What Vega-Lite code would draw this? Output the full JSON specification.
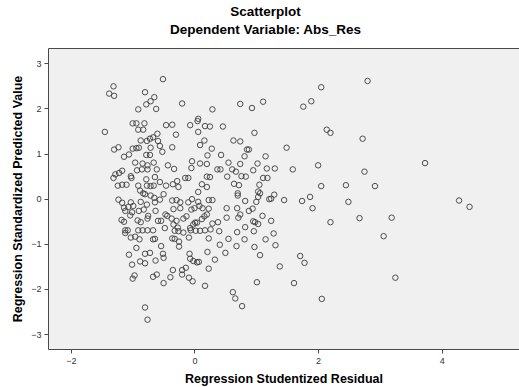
{
  "$schema": "https://vega.github.io/schema/vega-lite/v6.json",
  "width": 471,
  "height": 301,
  "autosize": {"type": "none"},
  "padding": {"left": 48, "top": 48, "right": 0, "bottom": 38},
  "background": "#ffffff",
  "config": {
    "font": "Liberation Sans",
    "view": {"fill": "#f0f0f0", "stroke": "#4a4a4a", "strokeWidth": 1},
    "axis": {"grid": false, "domain": false, "tickColor": "#4a4a4a", "tickSize": 4, "labelFontSize": 9, "labelColor": "#333333", "titleFontSize": 12.5, "titleFontWeight": "bold", "titleColor": "#000000", "labelFont": "Liberation Sans", "titleFont": "Liberation Sans"}
  },
  "title": {
    "text": "Scatterplot",
    "subtitle": "Dependent Variable: Abs_Res",
    "anchor": "middle",
    "dx": -18,
    "offset": 12,
    "fontSize": 13.5,
    "fontWeight": "bold",
    "subtitleFontSize": 13.5,
    "subtitleFontWeight": "bold",
    "subtitlePadding": 4,
    "color": "#000000",
    "subtitleColor": "#000000",
    "font": "Liberation Sans",
    "subtitleFont": "Liberation Sans"
  },
  "data": {"values": [
    {"r":-0.51,"p":2.65},{"r":-1.31,"p":2.49},{"r":-1.38,"p":2.33},{"r":-1.30,"p":2.28},{"r":-0.80,"p":2.36},{"r":-0.65,"p":2.25},{"r":-0.71,"p":2.16},{"r":-0.78,"p":2.09},{"r":-0.91,"p":1.98},{"r":-0.62,"p":1.99},
    {"r":-1.00,"p":1.67},{"r":-0.94,"p":1.67},{"r":-0.81,"p":1.67},{"r":-0.91,"p":1.53},{"r":-0.83,"p":1.53},{"r":-1.45,"p":1.48},{"r":-0.46,"p":1.63},{"r":-0.60,"p":1.44},{"r":-0.87,"p":1.29},{"r":-0.77,"p":1.28},
    {"r":-0.72,"p":1.33},{"r":-0.67,"p":1.36},{"r":-0.59,"p":1.28},{"r":-0.56,"p":1.17},{"r":-1.30,"p":1.09},{"r":-1.23,"p":1.14},{"r":-1.00,"p":1.11},{"r":-0.94,"p":1.12},{"r":-0.90,"p":1.13},{"r":-0.71,"p":1.13},
    {"r":-0.52,"p":1.04},{"r":-1.14,"p":0.93},{"r":-1.06,"p":0.98},{"r":-0.78,"p":0.97},{"r":-0.72,"p":0.97},
    {"r":-0.96,"p":0.80},{"r":-0.84,"p":0.78},{"r":-0.76,"p":0.74},{"r":-0.66,"p":0.80},{"r":-0.43,"p":0.74},{"r":-1.17,"p":0.62},{"r":-1.22,"p":0.57},{"r":-1.28,"p":0.54},{"r":-1.31,"p":0.46},{"r":-1.03,"p":0.50},
    {"r":-1.02,"p":0.46},{"r":-0.93,"p":0.63},{"r":-0.85,"p":0.65},{"r":-0.76,"p":0.65},{"r":-0.61,"p":0.65},{"r":-0.78,"p":0.43},{"r":-0.64,"p":0.48},{"r":-0.56,"p":0.37},{"r":-1.24,"p":0.29},{"r":-1.17,"p":0.31},
    {"r":-1.10,"p":0.31},{"r":-0.91,"p":0.29},{"r":-0.77,"p":0.29},{"r":-0.71,"p":0.28},{"r":-0.66,"p":0.29},{"r":-0.46,"p":0.29},{"r":-0.88,"p":0.18},{"r":-0.83,"p":0.12},{"r":-0.80,"p":0.10},{"r":-0.71,"p":0.07},
    {"r":-0.65,"p":0.02},{"r":-0.56,"p":-0.02},{"r":-1.23,"p":-0.02},{"r":-1.17,"p":-0.09},{"r":-1.03,"p":-0.08},{"r":-0.87,"p":-0.07},{"r":-0.50,"p":0.10},{"r":-1.14,"p":-0.20},{"r":-1.07,"p":-0.18},{"r":-0.99,"p":-0.16},
    {"r":-0.77,"p":-0.13},{"r":-0.64,"p":-0.08},{"r":-1.12,"p":-0.27},{"r":-1.04,"p":-0.37},{"r":-1.01,"p":-0.30},{"r":-0.90,"p":-0.27},{"r":-0.82,"p":-0.24},{"r":-0.63,"p":-0.27},{"r":-0.47,"p":-0.35},{"r":-0.44,"p":-0.38},
    {"r":-0.75,"p":-0.38},{"r":-0.76,"p":-0.44},{"r":-1.18,"p":-0.47},{"r":-1.14,"p":-0.51},{"r":-0.92,"p":-0.48},{"r":-0.87,"p":-0.52},{"r":-0.59,"p":-0.49},{"r":-0.54,"p":-0.49},{"r":-1.12,"p":-0.70},{"r":-1.08,"p":-0.70},
    {"r":-0.91,"p":-0.70},{"r":-0.84,"p":-0.70},{"r":-0.76,"p":-0.70},{"r":-0.67,"p":-0.70},{"r":-0.48,"p":-0.65},{"r":-1.12,"p":-0.76},{"r":-1.03,"p":-0.86},{"r":-0.96,"p":-0.84},{"r":-0.89,"p":-0.90},{"r":-0.64,"p":-0.89},
    {"r":-0.67,"p":-0.90},{"r":-0.94,"p":-1.09},{"r":-0.54,"p":-1.05},{"r":-0.26,"p":0.26},{"r":-0.34,"p":-0.23},
    {"r":-1.06,"p":-1.24},{"r":-0.80,"p":-1.22},{"r":-0.72,"p":-1.20},{"r":-0.51,"p":-1.22},{"r":-0.50,"p":-1.31},{"r":-1.01,"p":-1.46},{"r":-0.88,"p":-1.39},{"r":-0.80,"p":-1.43},{"r":-0.63,"p":-1.37},{"r":-0.97,"p":-1.70},
    {"r":-1.00,"p":-1.77},{"r":-0.67,"p":-1.73},{"r":-0.61,"p":-1.68},{"r":-0.50,"p":-1.87},{"r":-0.80,"p":-2.41},{"r":-0.76,"p":-2.68},
    {"r":2.05,"p":2.47},{"r":-0.20,"p":2.11},{"r":0.29,"p":1.98},{"r":0.74,"p":2.10},{"r":0.93,"p":2.01},{"r":1.11,"p":2.15},{"r":1.76,"p":2.04},{"r":1.89,"p":2.16},{"r":-0.36,"p":1.64},{"r":-0.30,"p":1.42},
    {"r":0.06,"p":1.77},{"r":0.05,"p":1.72},{"r":-0.07,"p":1.63},{"r":0.17,"p":1.61},{"r":0.25,"p":1.60},{"r":0.46,"p":1.60},{"r":0.06,"p":1.48},{"r":0.16,"p":1.29},{"r":0.09,"p":1.19},{"r":0.28,"p":1.11},
    {"r":0.63,"p":1.29},{"r":0.74,"p":1.27},{"r":0.97,"p":1.46},{"r":0.85,"p":1.09},{"r":0.88,"p":1.09},{"r":2.14,"p":1.53},{"r":2.20,"p":1.46},{"r":1.49,"p":1.13},{"r":-0.36,"p":1.14},{"r":0.43,"p":0.97},
    {"r":0.21,"p":0.96},{"r":0.81,"p":0.94},{"r":1.15,"p":0.94},{"r":-0.04,"p":0.83},{"r":0.09,"p":0.78},{"r":0.20,"p":0.77},{"r":0.55,"p":0.80},{"r":0.74,"p":0.77},{"r":1.02,"p":0.78},{"r":2.00,"p":0.74},
    {"r":-0.33,"p":0.66},{"r":-0.05,"p":0.68},{"r":0.37,"p":0.65},{"r":0.42,"p":0.65},{"r":0.61,"p":0.65},{"r":0.67,"p":0.60},{"r":0.95,"p":0.63},{"r":1.17,"p":0.67},{"r":1.30,"p":0.67},{"r":1.59,"p":0.65},
    {"r":-0.28,"p":0.39},{"r":-0.15,"p":0.46},{"r":-0.10,"p":0.46},{"r":0.20,"p":0.49},{"r":0.25,"p":0.48},{"r":0.53,"p":0.49},{"r":0.76,"p":0.50},{"r":0.83,"p":0.49},{"r":1.11,"p":0.46},{"r":1.18,"p":0.46},
    {"r":-0.35,"p":0.32},{"r":0.12,"p":0.32},{"r":0.20,"p":0.26},{"r":0.64,"p":0.33},{"r":0.72,"p":0.30},{"r":1.05,"p":0.31},{"r":2.05,"p":0.28},{"r":0.06,"p":0.15},{"r":0.70,"p":0.12},{"r":1.03,"p":0.16},
    {"r":1.06,"p":0.12},{"r":1.29,"p":0.09},
    {"r":-0.36,"p":-0.04},{"r":-0.29,"p":-0.03},{"r":-0.23,"p":-0.08},{"r":-0.10,"p":-0.08},{"r":-0.04,"p":-0.01},{"r":0.06,"p":-0.07},{"r":0.23,"p":-0.03},{"r":0.29,"p":-0.03},{"r":0.70,"p":0.07},{"r":0.82,"p":-0.05},
    {"r":1.00,"p":-0.07},{"r":1.03,"p":0.04},{"r":1.21,"p":-0.01},{"r":1.24,"p":0.00},{"r":1.45,"p":-0.03},{"r":1.74,"p":-0.05},{"r":1.87,"p":0.04},{"r":1.91,"p":-0.21},{"r":2.20,"p":-0.52},{"r":-0.23,"p":-0.21},
    {"r":-0.05,"p":-0.24},{"r":0.00,"p":-0.21},{"r":0.08,"p":-0.16},{"r":0.13,"p":-0.21},{"r":0.23,"p":-0.22},{"r":0.52,"p":-0.21},{"r":0.69,"p":-0.21},{"r":0.88,"p":-0.27},{"r":0.94,"p":-0.22},{"r":-0.37,"p":-0.44},
    {"r":-0.29,"p":-0.49},{"r":-0.18,"p":-0.44},{"r":-0.13,"p":-0.39},{"r":0.01,"p":-0.53},{"r":0.12,"p":-0.45},{"r":0.16,"p":-0.39},{"r":0.20,"p":-0.35},{"r":0.52,"p":-0.42},{"r":0.71,"p":-0.42},{"r":0.74,"p":-0.35},
    {"r":0.95,"p":-0.50},{"r":0.98,"p":-0.52},{"r":1.03,"p":-0.56},{"r":1.10,"p":-0.38},{"r":1.24,"p":-0.49},{"r":-0.34,"p":-0.57},{"r":-0.27,"p":-0.64},{"r":-0.07,"p":-0.65},{"r":-0.02,"p":-0.57},{"r":0.04,"p":-0.53},
    {"r":0.29,"p":-0.55},{"r":0.38,"p":-0.52},{"r":0.82,"p":-0.63},{"r":-0.32,"p":-0.71},{"r":-0.26,"p":-0.72},{"r":-0.18,"p":-0.75},{"r":-0.06,"p":-0.70},{"r":0.02,"p":-0.71},{"r":0.09,"p":-0.71},{"r":0.17,"p":-0.70},
    {"r":0.26,"p":-0.68},{"r":0.40,"p":-0.72},{"r":0.69,"p":-0.74},{"r":0.96,"p":-0.72},{"r":1.28,"p":-0.77},{"r":-0.36,"p":-0.88},{"r":-0.32,"p":-0.89},{"r":-0.25,"p":-0.95},{"r":-0.09,"p":-0.86},{"r":0.23,"p":-0.88},
    {"r":0.55,"p":-0.89},{"r":0.81,"p":-0.90},{"r":1.15,"p":-0.90},{"r":0.41,"p":-1.02},{"r":0.68,"p":-1.05},{"r":0.97,"p":-1.07},{"r":1.31,"p":-1.03},{"r":-0.25,"p":-1.06},{"r":0.21,"p":-1.18},{"r":-0.08,"p":-1.22},
    {"r":0.50,"p":-1.20},{"r":1.06,"p":-1.25},{"r":1.71,"p":-1.27},{"r":1.78,"p":-1.42},{"r":-0.07,"p":-1.33},{"r":-0.02,"p":-1.38},{"r":0.04,"p":-1.41},{"r":0.07,"p":-1.40},{"r":0.33,"p":-1.35},{"r":1.38,"p":-1.50},
    {"r":-0.35,"p":-1.58},{"r":-0.20,"p":-1.58},{"r":-0.14,"p":-1.53},{"r":-0.20,"p":-1.68},{"r":-0.39,"p":-1.74},{"r":-0.09,"p":-1.75},{"r":-0.03,"p":-1.83},{"r":0.23,"p":-1.55},{"r":0.17,"p":-1.93},{"r":1.01,"p":-1.85},
    {"r":1.61,"p":-1.87},{"r":0.62,"p":-2.07},{"r":0.66,"p":-2.21},{"r":0.77,"p":-2.38},{"r":2.06,"p":-2.22},
    {"r":2.80,"p":2.61},{"r":2.72,"p":1.33},{"r":3.73,"p":0.79},{"r":2.75,"p":0.60},{"r":2.45,"p":0.30},{"r":2.92,"p":0.28},{"r":2.49,"p":-0.07},{"r":4.28,"p":-0.04},{"r":4.45,"p":-0.18},{"r":2.67,"p":-0.43},
    {"r":3.19,"p":-0.42},{"r":3.06,"p":-0.83},{"r":3.25,"p":-1.75}
  ]},
  "mark": {"type": "point", "shape": "circle", "filled": false, "size": 30, "stroke": "#3c3c3c", "strokeWidth": 1, "opacity": 0.9},
  "encoding": {
    "x": {"field": "r", "type": "quantitative", "title": "Regression Studentized Residual",
      "scale": {"domain": [-2.37, 5.25], "nice": false, "zero": false},
      "axis": {"values": [-2, 0, 2, 4], "labelPadding": 3, "titlePadding": 7}},
    "y": {"field": "p", "type": "quantitative", "title": "Regression Standardized Predicted Value",
      "scale": {"domain": [-3.33, 3.34], "nice": false, "zero": false},
      "axis": {"values": [-3, -2, -1, 0, 1, 2, 3], "labelPadding": 3, "titlePadding": 6}}
  }
}
